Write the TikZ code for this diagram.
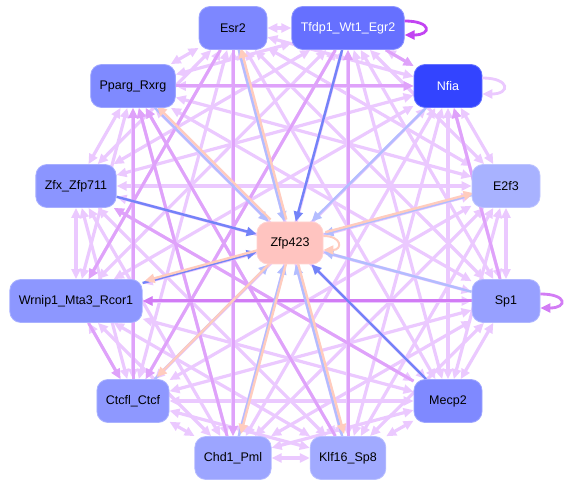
\documentclass[tikz,border=0pt]{standalone}
\usepackage{fontspec}
\setmainfont{Liberation Sans}
\usetikzlibrary{arrows.meta,positioning}
\pgfdeclarelayer{background}
\pgfsetlayers{background,main}

\definecolor{lav}{HTML}{EBC9FF}
\definecolor{lavmid}{HTML}{DFA2FA}
\definecolor{lavdark}{HTML}{D27CF5}
\definecolor{loopdark}{HTML}{C244F2}
\definecolor{bluedark}{HTML}{7383F8}
\definecolor{bluelight}{HTML}{B3BDFF}
\definecolor{peach}{HTML}{FFCCBE}
% node fills
\definecolor{cEsr}{HTML}{7D87FF}
\definecolor{cTfdp}{HTML}{6670FF}
\definecolor{cNfia}{HTML}{3344FF}
\definecolor{cPparg}{HTML}{7F8AFF}
\definecolor{cEtf}{HTML}{A8B2FF}
\definecolor{cZfx}{HTML}{8B95FF}
\definecolor{cWrnip}{HTML}{8D97FF}
\definecolor{cSp}{HTML}{97A0FF}
\definecolor{cCtcf}{HTML}{8E98FF}
\definecolor{cMecp}{HTML}{7F89FF}
\definecolor{cChd}{HTML}{9CA5FF}
\definecolor{cKlf}{HTML}{A1AAFF}
\definecolor{cZfp}{HTML}{FFC4C0}

\begin{document}
\begin{tikzpicture}[
    x=1pt, y=-1pt,
    tf/.style={draw=#1!75!white, fill=#1, line width=0.8pt, rounded corners=11pt,
      minimum width=68pt, minimum height=43pt, inner xsep=9pt,
      font=\fontsize{12.5}{14}\selectfont},
    tip/.tip={Triangle[length=10pt,width=9pt]},
    link/.style={tip-tip, line width=3.2pt, draw=lav},
    midlink/.style={-tip, line width=3pt, draw=lavmid},
    tozfp/.style={-tip, line width=2.4pt},
    selfloop/.style={-tip, line width=2.8pt}
]
    \useasboundingbox (0,0) rectangle (571,489);

    % ring of factors
    \node[tf=cEsr] (esr) at (233,28) {Esr2};
    \node[tf=cTfdp, text=white] (tfdp) at (348,28) {Tfdp1\_Wt1\_Egr2};
    \node[tf=cNfia, text=white] (nfia) at (448,86) {Nfia};
    \node[tf=cPparg] (pparg) at (133,86) {Pparg\_Rxrg};
    \node[tf=cEtf] (etf) at (506,186) {E2f3};
    \node[tf=cZfx] (zfx) at (76,186) {Zfx\_Zfp711};
    \node[tf=cWrnip] (wrnip) at (76,301) {Wrnip1\_Mta3\_Rcor1};
    \node[tf=cSp] (sp) at (506,301) {Sp1};
    \node[tf=cCtcf] (ctcf) at (133,401) {Ctcfl\_Ctcf};
    \node[tf=cMecp] (mecp) at (448,401) {Mecp2};
    \node[tf=cChd] (chd) at (233,458) {Chd1\_Pml};
    \node[tf=cKlf] (klf) at (348,458) {Klf16\_Sp8};

    % target
    \node[tf=cZfp, minimum width=66pt, minimum height=42pt] (zfp) at (290,243) {Zfp423};

    \begin{pgfonlayer}{background}
    \def\ring{esr,tfdp,nfia,etf,sp,mecp,klf,chd,ctcf,wrnip,zfx,pparg}
    \foreach \a [count=\i] in \ring {
        \foreach \b [count=\j] in \ring {
            \ifnum\i<\j \draw[link] (\a) -- (\b); \fi
        }
    }

    % stronger links
    \foreach \a/\b in {pparg/nfia, tfdp/nfia, sp/nfia, esr/chd, wrnip/ctcf, chd/pparg,
        tfdp/ctcf, klf/pparg, mecp/zfx, esr/wrnip, klf/tfdp, ctcf/pparg}
        \draw[midlink] (\a) -- (\b);
    \draw[midlink, draw=lavdark] (sp) -- (wrnip);

    % into Zfp423
    \foreach \a in {nfia, etf, sp, klf, chd, pparg, esr, ctcf}
        \draw[tozfp, draw=bluelight] (\a) -- (zfp);
    \foreach \a in {tfdp, zfx, mecp, wrnip}
        \draw[tozfp, draw=bluedark] (\a) -- (zfp);

    % out of Zfp423
    \foreach \a in {pparg, esr, etf, wrnip, ctcf, chd, klf}
        \draw[tozfp, draw=peach, transform canvas={shift={(2pt,2pt)}}] (zfp) -- (\a);
    \end{pgfonlayer}

    % self loops
    \draw[selfloop, draw=loopdark] ([yshift=7pt]tfdp.east) to[out=0, in=0, looseness=5] ([yshift=-7pt]tfdp.east);
    \draw[selfloop, draw=lav] ([yshift=8pt]nfia.east) to[out=0, in=0, looseness=4.5] ([yshift=-8pt]nfia.east);
    \draw[selfloop, draw=lavdark] ([yshift=7pt]sp.east) to[out=0, in=0, looseness=5] ([yshift=-7pt]sp.east);
    \draw[selfloop, draw=peach, line width=2pt] ([yshift=7pt]zfp.east) to[out=0, in=0, looseness=3.5] ([yshift=-7pt]zfp.east);
\end{tikzpicture}
\end{document}
